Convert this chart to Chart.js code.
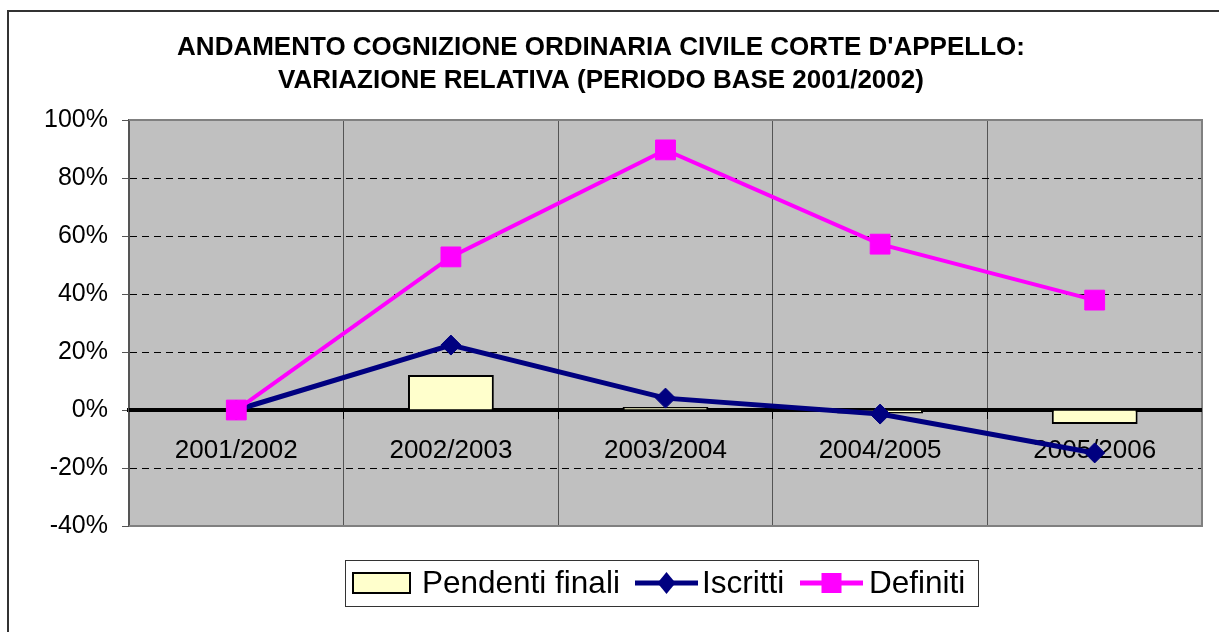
<!DOCTYPE html>
<html>
<head>
<meta charset="utf-8">
<script src="https://cdn.jsdelivr.net/npm/chart.js@4/dist/chart.umd.min.js"></script>
<style>
  html, body { margin: 0; padding: 0; background: #fff; }
  #wrap { width: 1219px; height: 632px; }
</style>
</head>
<body>
<div id="wrap"><canvas id="chart" width="1219" height="632"></canvas></div>
<script>
const periods = ["2001/2002", "2002/2003", "2003/2004", "2004/2005", "2005/2006"];
const pendentiFinali = [0, 12.1, 1.0, -1.2, -4.8];
const iscritti = [0, 22.4, 4.1, -1.4, -14.8];
const definiti = [0, 52.8, 89.7, 57.2, 37.9];
const titleLines = [
  "ANDAMENTO COGNIZIONE ORDINARIA CIVILE CORTE D'APPELLO:",
  "VARIAZIONE RELATIVA (PERIODO BASE 2001/2002)"
];

const FONT = "'Liberation Sans', Arial, sans-serif";

// grey plot background, frame round the whole picture
const backdrop = {
  id: "backdrop",
  beforeDraw(chart) {
    const { ctx, chartArea: a } = chart;
    ctx.save();
    ctx.strokeStyle = "#333";
    ctx.lineWidth = 2;
    ctx.strokeRect(8, 11, 1230, 640);
    ctx.fillStyle = "#c0c0c0";
    ctx.fillRect(a.left, a.top, a.right - a.left, a.bottom - a.top);
    ctx.restore();
  },
  beforeDatasetsDraw(chart) {
    const { ctx, chartArea: a } = chart;
    ctx.save();
    ctx.strokeStyle = "#808080";
    ctx.lineWidth = 2;
    ctx.beginPath();
    ctx.moveTo(a.left, a.top);
    ctx.lineTo(a.right, a.top);
    ctx.lineTo(a.right, a.bottom);
    ctx.lineTo(a.left, a.bottom);
    ctx.stroke();
    // zero line again on top of the grid
    const y0 = chart.scales.y.getPixelForValue(0);
    ctx.strokeStyle = "#000";
    ctx.lineWidth = 4;
    ctx.beginPath();
    ctx.moveTo(a.left, y0);
    ctx.lineTo(a.right, y0);
    ctx.stroke();
    ctx.restore();
  }
};

// excel style legend: box, swatch / line+marker, text
const boxLegend = {
  id: "boxLegend",
  afterDraw(chart) {
    const { ctx } = chart;
    const ds = chart.data.datasets;
    const x0 = 345, y0 = 560, w = 633, h = 46, cy = y0 + h / 2;
    ctx.save();
    ctx.fillStyle = "#fff";
    ctx.fillRect(x0, y0, w, h);
    ctx.strokeStyle = "#333";
    ctx.lineWidth = 1;
    ctx.strokeRect(x0 + 0.5, y0 + 0.5, w, h);
    ctx.font = "31.5px " + FONT;
    ctx.textBaseline = "middle";
    ctx.fillStyle = "#000";

    // bar swatch
    ctx.fillStyle = ds[0].backgroundColor;
    ctx.fillRect(353, cy - 10, 57, 20);
    ctx.strokeStyle = "#000";
    ctx.lineWidth = 2;
    ctx.strokeRect(353, cy - 10, 57, 20);
    ctx.fillStyle = "#000";
    ctx.fillText(ds[0].label, 422, cy + 1);

    const lineItem = (i, x1, x2, tx) => {
      const d = ds[i];
      ctx.strokeStyle = d.borderColor;
      ctx.lineWidth = 5;
      ctx.beginPath();
      ctx.moveTo(x1, cy);
      ctx.lineTo(x2, cy);
      ctx.stroke();
      ctx.fillStyle = d.borderColor;
      const mx = (x1 + x2) / 2;
      if (d.pointStyle === "rectRot") {
        ctx.beginPath();
        ctx.moveTo(mx, cy - 11);
        ctx.lineTo(mx + 9, cy);
        ctx.lineTo(mx, cy + 11);
        ctx.lineTo(mx - 9, cy);
        ctx.closePath();
        ctx.fill();
      } else {
        ctx.fillRect(mx - 10, cy - 10, 20, 20);
      }
      ctx.fillStyle = "#000";
      ctx.fillText(d.label, tx, cy + 1);
    };
    lineItem(1, 635, 698, 702);
    lineItem(2, 800, 863, 869);
    ctx.restore();
  }
};

const ctx = document.getElementById("chart").getContext("2d");
const chart = new Chart(ctx, {
  type: "bar",
  data: {
    labels: periods,
    datasets: [
      {
        type: "bar",
        label: "Pendenti finali",
        data: pendentiFinali,
        backgroundColor: "#ffffcc",
        borderColor: "#000",
        borderWidth: 2,
        barPercentage: 0.4,
        categoryPercentage: 1,
        order: 3
      },
      {
        type: "line",
        label: "Iscritti",
        data: iscritti,
        borderColor: "#000080",
        backgroundColor: "#000080",
        borderWidth: 5,
        pointStyle: "rectRot",
        pointRadius: 10,
        pointBorderWidth: 1,
        tension: 0,
        order: 2
      },
      {
        type: "line",
        label: "Definiti",
        data: definiti,
        borderColor: "#ff00ff",
        backgroundColor: "#ff00ff",
        borderWidth: 4,
        pointStyle: "rect",
        pointRadius: 14,
        pointBorderWidth: 1,
        tension: 0,
        order: 1
      }
    ]
  },
  options: {
    responsive: false,
    animation: false,
    layout: { padding: { left: 0, right: 17, top: 0, bottom: 106 } },
    plugins: {
      legend: { display: false },
      tooltip: { enabled: false },
      title: {
        display: true,
        text: titleLines,
        color: "#000",
        font: { family: FONT, size: 26, weight: "bold", lineHeight: 1.27 },
        padding: { top: 31, bottom: 23 }
      }
    },
    scales: {
      x: {
        position: { y: 0 },
        grid: {
          offset: true,
          color: "#555",
          lineWidth: 1,
          tickLength: 7,
          tickColor: "#000"
        },
        border: { display: true, color: "#000", width: 4 },
        ticks: {
          color: "#000",
          padding: 18,
          maxRotation: 0,
          font: { family: FONT, size: 26 }
        }
      },
      y: {
        min: -40,
        max: 100,
        afterFit(scale) { scale.width = 129; },
        grid: {
          color: "#000",
          lineWidth: 1,
          tickLength: 7,
          tickColor: "#555"
        },
        border: { display: true, color: "#555", width: 2, dash: [7, 5] },
        ticks: {
          stepSize: 20,
          color: "#000",
          padding: 14,
          font: { family: FONT, size: 25 },
          callback: v => v + "%"
        }
      }
    }
  },
  plugins: [backdrop, boxLegend]
});
</script>
</body>
</html>
